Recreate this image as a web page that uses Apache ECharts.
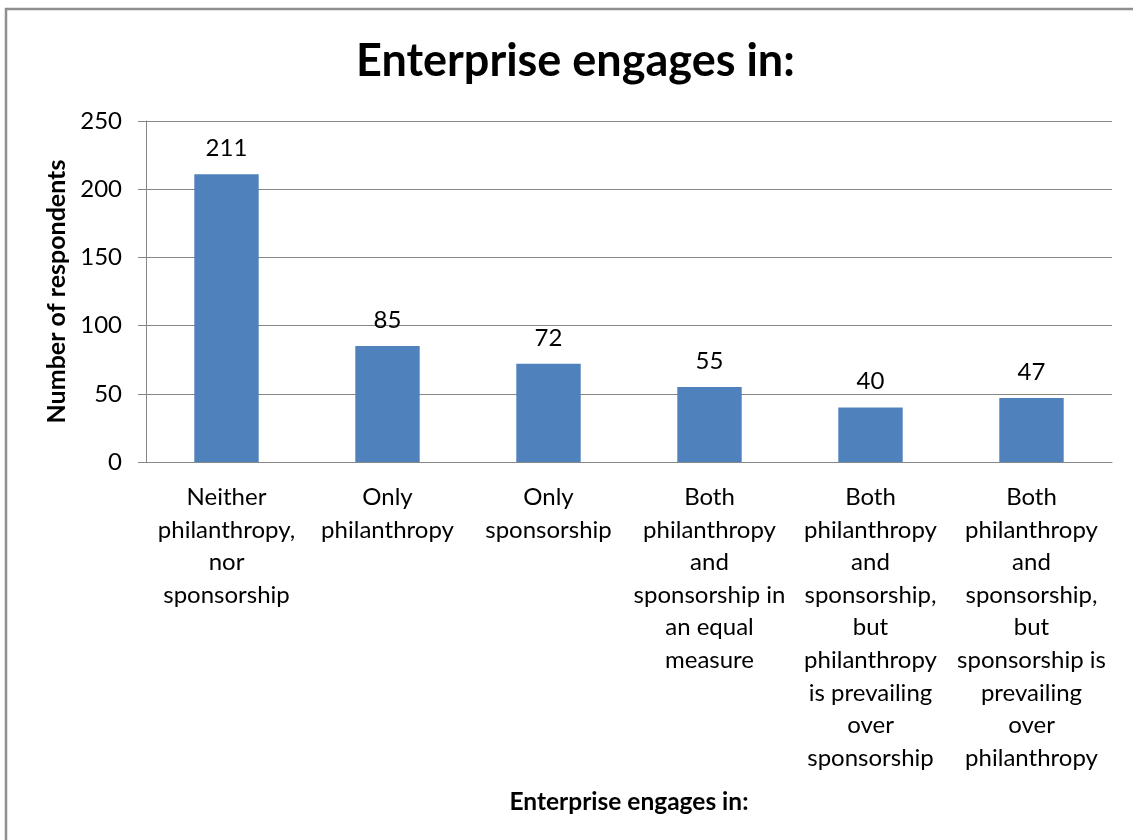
<!DOCTYPE html>
<html>
<head>
<meta charset="utf-8">
<style>
  html, body { margin: 0; padding: 0; background: #fff; }
  #chart { width: 1133px; height: 840px; }
</style>
<script src="https://cdn.jsdelivr.net/npm/echarts@6/dist/echarts.min.js"></script>
</head>
<body>
<div id="chart"></div>
<script>
// Survey answers: what kind of engagement the enterprise has
const categories = [
  'Neither\nphilanthropy,\nnor\nsponsorship',
  'Only\nphilanthropy',
  'Only\nsponsorship',
  'Both\nphilanthropy\nand\nsponsorship in\nan equal\nmeasure',
  'Both\nphilanthropy\nand\nsponsorship,\nbut\nphilanthropy\nis prevailing\nover\nsponsorship',
  'Both\nphilanthropy\nand\nsponsorship,\nbut\nsponsorship is\nprevailing\nover\nphilanthropy'
];
const respondents = [211, 85, 72, 55, 40, 47];
const yTicks = { min: 0, max: 250, interval: 50 };

const FONT = 'Lato, "Open Sans", sans-serif';
const chart = echarts.init(document.getElementById('chart'), null, { renderer: 'canvas' });

chart.setOption({
  animation: false,
  backgroundColor: '#ffffff',
  textStyle: { fontFamily: FONT },
  title: {
    text: 'Enterprise engages in:',
    left: 351,
    top: 34,
    textStyle: { fontFamily: FONT, fontSize: 45, fontWeight: 'bold', color: '#000' }
  },
  graphic: [{
    type: 'rect',
    shape: { x: 6, y: 9, width: 1200, height: 900 },
    style: { fill: 'none', stroke: '#8f8f8f', lineWidth: 2.5 },
    silent: true
  }],
  grid: { left: 146, right: 21, top: 121, bottom: 378, containLabel: false },
  xAxis: {
    type: 'category',
    data: categories,
    name: 'Enterprise engages in:',
    nameLocation: 'middle',
    nameGap: 328,
    nameTextStyle: { fontFamily: FONT, fontSize: 24.5, fontWeight: 'bold', color: '#000' },
    axisLine: { show: true, lineStyle: { color: '#868686', width: 1 } },
    axisTick: { show: false },
    axisLabel: {
      interval: 0,
      margin: 19,
      fontFamily: FONT,
      fontSize: 24,
      lineHeight: 32.6,
      color: '#000',
      align: 'center'
    }
  },
  yAxis: {
    type: 'value',
    min: yTicks.min,
    max: yTicks.max,
    interval: yTicks.interval,
    name: 'Number of respondents',
    nameLocation: 'middle',
    nameGap: 77,
    nameTextStyle: { fontFamily: FONT, fontSize: 25, fontWeight: 'bold', color: '#000' },
    axisLine: { show: true, lineStyle: { color: '#868686', width: 1 } },
    axisTick: { show: true, length: 8, lineStyle: { color: '#868686' } },
    axisLabel: { margin: 24, fontFamily: FONT, fontSize: 24, color: '#000' },
    splitLine: { show: true, lineStyle: { color: '#868686', width: 1 } }
  },
  series: [{
    type: 'bar',
    data: respondents,
    barWidth: '40%',
    itemStyle: { color: '#4F81BD' },
    label: {
      show: true,
      position: 'top',
      distance: 14,
      fontFamily: FONT,
      fontSize: 24,
      color: '#000'
    }
  }]
});
</script>
</body>
</html>
